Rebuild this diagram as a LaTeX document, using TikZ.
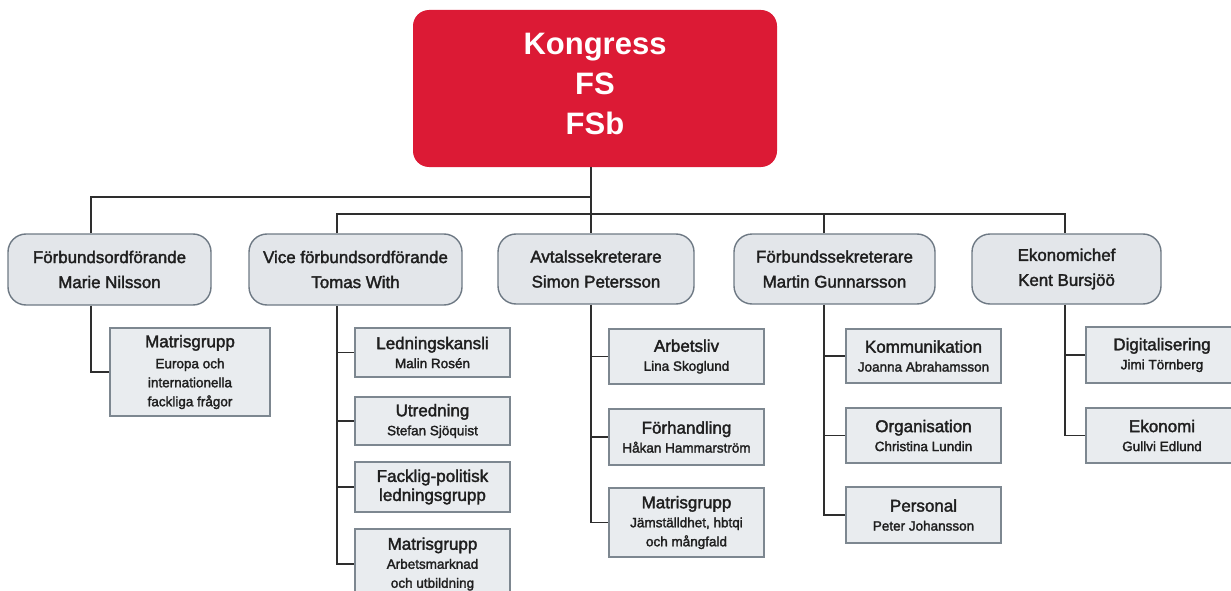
\documentclass[tikz,border=0pt]{standalone}
\usepackage{fontspec}
\setmainfont{Liberation Sans}
\newfontfamily\medfont{Liberation Sans}[FakeBold=2]
\definecolor{kred}{HTML}{DC1A35}
\definecolor{lvtwofill}{HTML}{E3E6EA}
\definecolor{lvtwoline}{HTML}{6E7984}
\definecolor{lvthreefill}{HTML}{E9ECEF}
\definecolor{lvthreeline}{HTML}{7D8790}
\definecolor{conn}{HTML}{2E2E2E}
\tikzset{
  topbox/.style={fill=kred, draw=none, rounded corners=16pt, inner sep=0pt},
  toptext/.style={text=white, align=center, font=\fontsize{31}{40}\selectfont\bfseries, inner sep=0pt},
  headbox/.style={fill=lvtwofill, draw=lvtwoline, line width=1.4pt, rounded corners=18pt,
    align=center, font=\medfont\fontsize{16.9}{25}\selectfont, inner sep=0pt, text=black!88},
  unitbox/.style={fill=lvthreefill, draw=lvthreeline, line width=1.4pt, align=center,
    font=\medfont\fontsize{17}{19}\selectfont, inner sep=0pt, text=black!88},
  wire/.style={draw=conn, line width=1.4pt},
}
\newcommand{\subt}[1]{{\fontsize{13.5}{19}\selectfont #1}}
\begin{document}
\begin{tikzpicture}[x=1pt,y=-1pt]
\useasboundingbox (0,0) rectangle (1231,591);
\clip (0,0) rectangle (1231,591);
% top
\node[topbox, minimum width=364pt, minimum height=157pt] (top) at (595,88.5) {};
\node[toptext] (toplbl) at ([yshift=4.5pt]top.center) {Kongress\\FS\\FSb};
% level 2
\node[headbox, minimum width=203pt, minimum height=71pt] (marie) at (109.5,269.5) {Förbundsordförande\\Marie Nilsson};
\node[headbox, minimum width=213pt, minimum height=71pt] (tomas) at (355.5,269.5) {Vice förbundsordförande\\Tomas With};
\node[headbox, minimum width=196pt, minimum height=70pt] (avt) at (596,269) {Avtalssekreterare\\Simon Petersson};
\node[headbox, minimum width=201pt, minimum height=70pt] (martin) at (834.5,269) {Förbundssekreterare\\Martin Gunnarsson};
\node[headbox, minimum width=189pt, minimum height=70pt] (kent) at (1066.5,269) {Ekonomichef\\Kent Bursjöö};
% spine coordinates
\coordinate (j1) at (591,197);
\coordinate (j2) at (591,214);
\coordinate (xm) at (91,0);
\coordinate (xt) at (337,0);
\coordinate (xa) at (591,0);
\coordinate (xg) at (824,0);
\coordinate (xk) at (1065,0);
% level 3: Marie
\node[unitbox, minimum width=160pt, minimum height=88pt] (mm) at (190,372) {Matrisgrupp\\[2pt]\subt{Europa och}\\\subt{internationella}\\\subt{fackliga frågor}};
% Tomas
\node[unitbox, minimum width=155pt, minimum height=49pt] (t1) at (432.5,352.5) {Ledningskansli\\\subt{Malin Rosén}};
\node[unitbox, minimum width=155pt, minimum height=48pt] (t2) at (432.5,421) {Utredning\\\subt{Stefan Sjöquist}};
\node[unitbox, minimum width=155pt, minimum height=50pt] (t3) at (432.5,487) {Facklig-politisk\\ledningsgrupp};
\node[unitbox, minimum width=155pt, minimum height=70pt] (t4) at (432.5,564) {Matrisgrupp\\\subt{Arbetsmarknad}\\\subt{och utbildning}};
% Avtal
\node[unitbox, minimum width=155pt, minimum height=55pt] (a1) at (686.5,356.5) {Arbetsliv\\\subt{Lina Skoglund}};
\node[unitbox, minimum width=155pt, minimum height=56pt] (a2) at (686.5,437) {Förhandling\\\subt{Håkan Hammarström}};
\node[unitbox, minimum width=155pt, minimum height=69pt] (a3) at (686.5,522.5) {Matrisgrupp\\\subt{Jämställdhet, hbtqi}\\\subt{och mångfald}};
% Martin
\node[unitbox, minimum width=155pt, minimum height=54pt] (g1) at (923.5,356) {Kommunikation\\\subt{Joanna Abrahamsson}};
\node[unitbox, minimum width=155pt, minimum height=55pt] (g2) at (923.5,435.5) {Organisation\\\subt{Christina Lundin}};
\node[unitbox, minimum width=155pt, minimum height=56pt] (g3) at (923.5,515) {Personal\\\subt{Peter Johansson}};
% Kent
\node[unitbox, minimum width=152pt, minimum height=56pt] (k1) at (1162,355) {Digitalisering\\\subt{Jimi Törnberg}};
\node[unitbox, minimum width=152pt, minimum height=55pt] (k2) at (1162,435.5) {Ekonomi\\\subt{Gullvi Edlund}};
% connectors
\draw[wire] (top.south -| j1) -- (avt.north -| j1);
\draw[wire] (xm |- marie.north) |- (j1);
\draw[wire] (xt |- tomas.north) |- (j2) -| (xk |- kent.north);
\draw[wire] (xg |- martin.north) -- (xg |- j2);
\draw[wire] (xm |- marie.south) |- (mm.west);
\draw[wire] (xt |- tomas.south) |- (t4.west);
\draw[wire] (xt |- t1.west) -- (t1.west);
\draw[wire] (xt |- t2.west) -- (t2.west);
\draw[wire] (xt |- t3.west) -- (t3.west);
\draw[wire] (xa |- avt.south) |- (a3.west);
\draw[wire] (xa |- a1.west) -- (a1.west);
\draw[wire] (xa |- a2.west) -- (a2.west);
\draw[wire] (xg |- martin.south) |- (g3.west);
\draw[wire] (xg |- g1.west) -- (g1.west);
\draw[wire] (xg |- g2.west) -- (g2.west);
\draw[wire] (xk |- kent.south) |- (k2.west);
\draw[wire] (xk |- k1.west) -- (k1.west);
\end{tikzpicture}
\end{document}
